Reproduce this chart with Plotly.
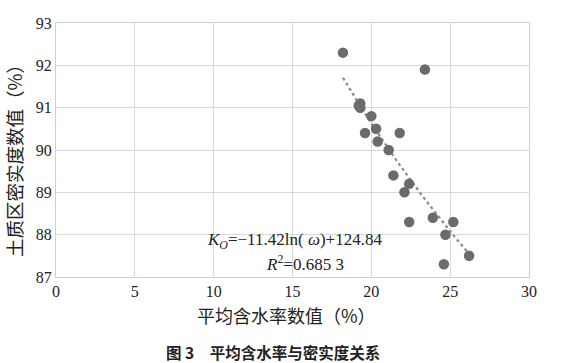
import numpy as np
import plotly.graph_objects as go

# data
water_content = [18.2, 23.4, 19.3, 19.2, 19.3, 20.0, 20.3, 19.6, 21.8, 20.4, 21.1,
                 21.4, 22.4, 22.1, 22.4, 23.9, 25.2, 24.7, 24.6, 26.2]
compactness = [92.3, 91.9, 91.1, 91.05, 91.0, 90.8, 90.5, 90.4, 90.4, 90.2, 90.0,
               89.4, 89.2, 89.0, 88.3, 88.4, 88.3, 88.0, 87.3, 87.5]
fit_a = -11.42
fit_b = 124.84
x_ticks = [0, 5, 10, 15, 20, 25, 30]
y_ticks = [87, 88, 89, 90, 91, 92, 93]

xs = np.linspace(min(water_content), max(water_content), 60)
ys = fit_a * np.log(xs) + fit_b

serif = "Liberation Serif, Times New Roman, serif"
cjk = "Noto Sans CJK SC, sans-serif"

fig = go.Figure()
fig.add_trace(go.Scatter(x=xs, y=ys, mode="lines",
                         line=dict(color="#8a8a8a", width=2.2, dash="dot"),
                         hoverinfo="skip", showlegend=False))
fig.add_trace(go.Scatter(x=water_content, y=compactness, mode="markers",
                         marker=dict(color="#6b6b6b", size=10.5),
                         showlegend=False))

fig.update_layout(
    width=567, height=363,
    margin=dict(l=56, r=38, t=23, b=86),
    paper_bgcolor="white", plot_bgcolor="white",
    xaxis=dict(range=[0, 30], tickvals=x_ticks, showgrid=True, gridcolor="#d9d9d9",
               gridwidth=1.3, zeroline=False, showline=True, linecolor="#d0d0d0",
               linewidth=1.3, mirror=True, ticks="", automargin=False,
               tickfont=dict(family=serif, size=16, color="#222")),
    yaxis=dict(range=[87, 93], tickvals=y_ticks, showgrid=True, gridcolor="#d9d9d9",
               gridwidth=1.3, zeroline=False, showline=True, linecolor="#d0d0d0",
               linewidth=1.3, mirror=True, ticks="", automargin=False,
               tickfont=dict(family=serif, size=16, color="#222")),
)

fig.add_annotation(x=0.488, y=-0.15, xref="paper", yref="paper", showarrow=False,
                   xanchor="center", yanchor="middle",
                   text="平均含水率数值（%）",
                   font=dict(family=cjk, size=18, color="#222"))
fig.add_annotation(x=-0.089, y=0.476, xref="paper", yref="paper", showarrow=False,
                   xanchor="center", yanchor="middle",
                   text="土质区密实度数值（%）", textangle=-90,
                   font=dict(family=cjk, size=18.5, color="#222"))
fig.add_annotation(x=15.12, y=87.86, xref="x", yref="y", showarrow=False,
                   xanchor="center", yanchor="middle",
                   text="<i>K</i><sub><i>O</i></sub>=−11.42ln( <i>ω</i>)+124.84",
                   font=dict(family=serif, size=17, color="#222"))
fig.add_annotation(x=15.82, y=87.34, xref="x", yref="y", showarrow=False,
                   xanchor="center", yanchor="middle",
                   text="<i>R</i><sup>2</sup>=0.685 3",
                   font=dict(family=serif, size=17, color="#222"))
fig.add_annotation(x=0.459, y=-0.295, xref="paper", yref="paper", showarrow=False,
                   xanchor="center", yanchor="middle",
                   text="<b>图 3　平均含水率与密实度关系</b>",
                   font=dict(family=cjk, size=15.5, color="#222"))

fig.write_html("out.html", config={"displayModeBar": False},
               post_script="document.body.style.margin='0px';")
